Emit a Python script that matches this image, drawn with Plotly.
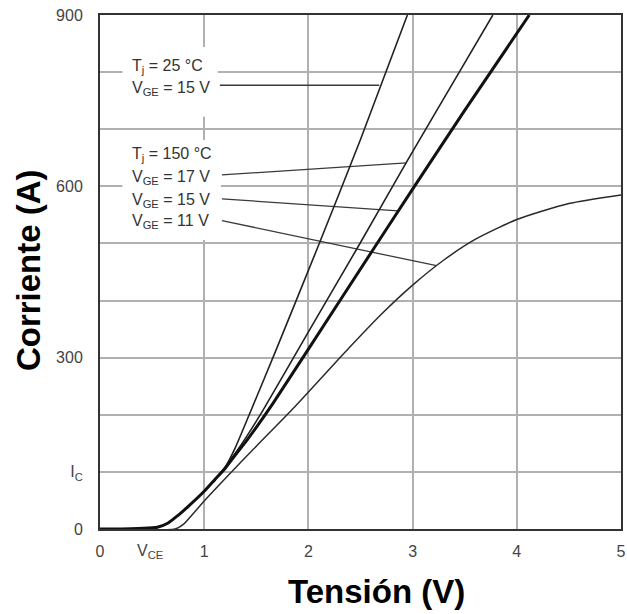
import plotly.graph_objects as go

# ---------------- data ----------------
# Tj = 25 degC, VGE = 15 V
v_25c_15v = [0, 0.3, 0.5, 0.55, 0.65, 0.75, 0.85, 1.0, 1.1, 1.2, 1.3, 1.45, 1.7, 2.08, 2.5, 2.95]
i_25c_15v = [0, 0.5, 2, 3, 10, 24, 40, 66, 86, 108, 143, 208, 318, 489, 682, 900]

# Tj = 150 degC, VGE = 17 V
v_150c_17v = [0, 0.3, 0.5, 0.55, 0.65, 0.75, 0.85, 1.0, 1.1, 1.2, 1.3, 1.4, 1.565, 2.0, 2.46, 2.94, 3.4, 3.77]
i_150c_17v = [0, 0.5, 2, 3, 10, 24, 40, 66, 86, 108, 133, 160, 208, 345, 489, 642, 785, 900]

# Tj = 150 degC, VGE = 15 V (bold curve)
v_150c_15v = [0, 0.3, 0.5, 0.55, 0.65, 0.75, 0.85, 1.0, 1.1, 1.2, 1.3, 1.4, 1.5, 1.66, 2.0, 2.62, 3.0, 3.5, 4.12]
i_150c_15v = [0, 0.5, 2, 3, 10, 24, 40, 66, 86, 106, 130, 153, 178, 220, 315, 489, 595, 733, 900]

# Tj = 150 degC, VGE = 11 V
v_150c_11v = [0, 0.72, 0.8, 0.9, 1.0, 1.2, 1.5, 1.87, 2.4, 2.7, 3.0, 3.3, 3.6, 4.0, 4.5, 5.0]
i_150c_11v = [0, 0, 8, 28, 49, 88, 145, 214, 319, 376, 427, 471, 507, 542, 570, 585]

# leader lines (label -> curve)
lead_25_v = [1.15, 2.68]
lead_25_i = [777, 777]
lead_17_v = [1.17, 2.94]
lead_17_i = [620, 641]
lead_15_v = [1.17, 2.86]
lead_15_i = [578, 557]
lead_11_v = [1.17, 3.23]
lead_11_i = [540, 461]

# label texts
label_texts = ["T<sub>j</sub> = 25 °C", "V<sub>GE</sub> = 15 V",
               "T<sub>j</sub> = 150 °C", "V<sub>GE</sub> = 17 V",
               "V<sub>GE</sub> = 15 V", "V<sub>GE</sub> = 11 V"]
label_i = [809, 772, 655, 615, 576, 538]

x_tickvals = [0, 1, 2, 3, 4, 5]
x_ticktext = ["0", "1", "2", "3", "4", "5"]
y_tickvals = [0, 100, 300, 600, 900]
y_ticktext = ["0", "I<sub>C</sub>", "300", "600", "900"]

# ---------------- figure ----------------
fig = go.Figure()

FONT = "Liberation Sans, Arial, sans-serif"

# white label boxes (above grid, below traces)
fig.add_shape(type="rect", x0=0.215, x1=1.13, y0=722, y1=844, xref="x", yref="y",
              fillcolor="white", line=dict(width=0), layer="between")
fig.add_shape(type="rect", x0=0.215, x1=1.16, y0=506, y1=681, xref="x", yref="y",
              fillcolor="white", line=dict(width=0), layer="between")

for xs, ys in [(lead_25_v, lead_25_i), (lead_17_v, lead_17_i),
               (lead_15_v, lead_15_i), (lead_11_v, lead_11_i)]:
    fig.add_trace(go.Scatter(x=xs, y=ys, mode="lines",
                             line=dict(color="#3a3a3a", width=1.3),
                             hoverinfo="skip", showlegend=False))

curves = [
    (v_150c_11v, i_150c_11v, 1.5, "#2a2a2a"),
    (v_25c_15v, i_25c_15v, 1.6, "#222222"),
    (v_150c_17v, i_150c_17v, 1.6, "#222222"),
    (v_150c_15v, i_150c_15v, 3.0, "#111111"),
]
for xs, ys, w, c in curves:
    fig.add_trace(go.Scatter(x=xs, y=ys, mode="lines",
                             line=dict(color=c, width=w, shape="spline", smoothing=0.6),
                             showlegend=False))

for t, yi in zip(label_texts, label_i):
    fig.add_annotation(x=0.285, y=yi, xref="x", yref="y", text=t, showarrow=False,
                       xanchor="left", yanchor="middle",
                       font=dict(family=FONT, size=16, color="#333333"))

# V_CE tick label
fig.add_annotation(x=0.48, y=0, xref="x", yref="y", text="V<sub>CE</sub>", showarrow=False,
                   xanchor="center", yanchor="middle", yshift=-22,
                   font=dict(family=FONT, size=16, color="#444444"))

# axis titles
fig.add_annotation(x=0.53, y=-0.122, xref="paper", yref="paper", text="Tensión (V)",
                   showarrow=False, xanchor="center", yanchor="middle",
                   font=dict(family=FONT, size=33, color="black", weight="bold"))
fig.add_annotation(x=-0.136, y=0.504, xref="paper", yref="paper", text="Corriente (A)",
                   showarrow=False, xanchor="center", yanchor="middle", textangle=-90,
                   font=dict(family=FONT, size=33, color="black", weight="bold"))

GRID = "#b0b0b0"
fig.update_layout(
    width=627, height=614,
    margin=dict(l=100, r=6, t=15, b=85, autoexpand=False),
    paper_bgcolor="white", plot_bgcolor="white",
    showlegend=False,
    xaxis=dict(range=[0, 5], tickmode="array", tickvals=x_tickvals, ticktext=x_ticktext,
               showgrid=True, gridcolor=GRID, gridwidth=1.6, automargin=False,
               showline=True, mirror=True, linecolor="#333333", linewidth=2,
               zeroline=False, ticks="", ticklabelstandoff=7,
               tickfont=dict(family=FONT, size=16, color="#444444")),
    yaxis=dict(range=[0, 900], tickmode="array", tickvals=y_tickvals, ticktext=y_ticktext,
               showgrid=True, gridcolor=GRID, gridwidth=1.6, automargin=False,
               minor=dict(dtick=100, tick0=0, showgrid=True, gridcolor=GRID, gridwidth=1.6, ticks=""),
               showline=True, mirror=True, linecolor="#333333", linewidth=2,
               zeroline=False, ticks="", ticklabelstandoff=12,
               tickfont=dict(family=FONT, size=16, color="#444444")),
)

fig.write_html("out.html", config={"displayModeBar": False},
               post_script="document.body.style.margin='0';document.body.style.padding='0';")
